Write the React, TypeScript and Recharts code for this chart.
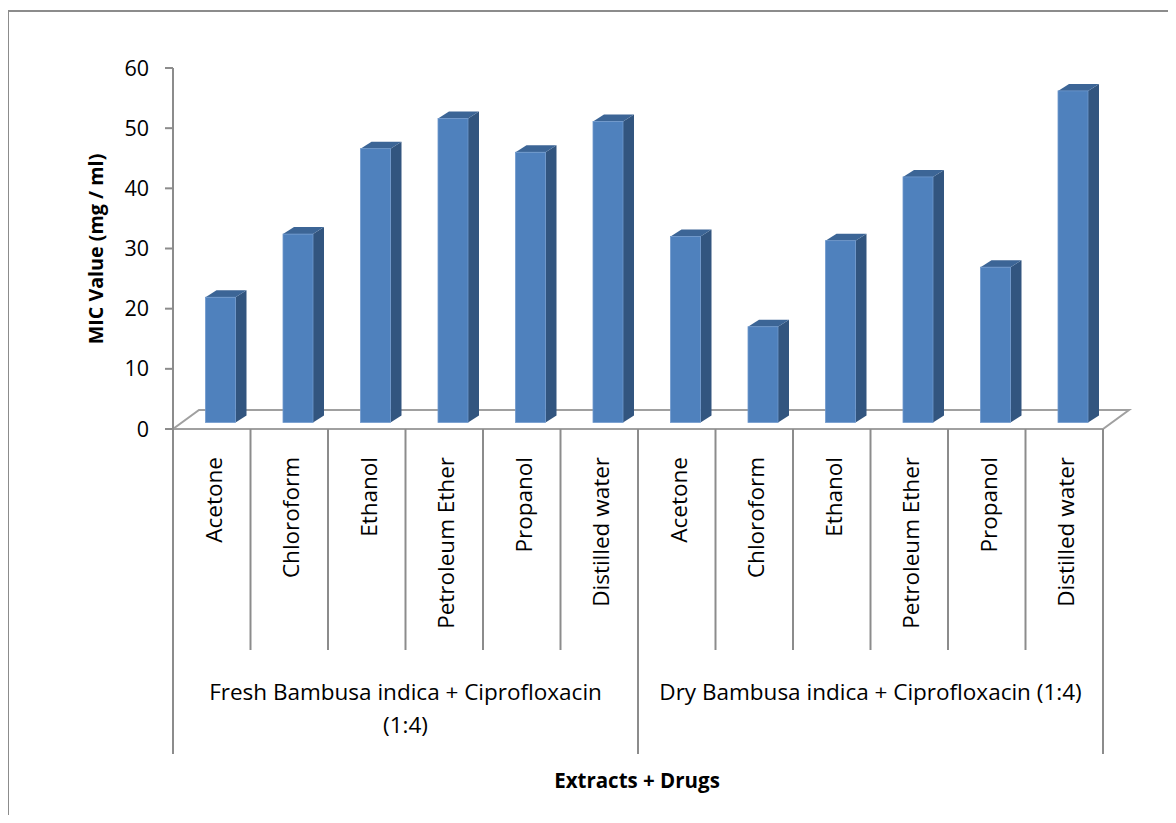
import React from 'react';
import { BarChart, Bar, XAxis, YAxis, ReferenceLine } from 'recharts';

const solvents = ['Acetone', 'Chloroform', 'Ethanol', 'Petroleum Ether', 'Propanol', 'Distilled water'];
const groupLines = [
  ['Fresh Bambusa indica + Ciprofloxacin', '(1:4)'],
  ['Dry Bambusa indica + Ciprofloxacin (1:4)'],
];
const freshMic = [20.8, 31.3, 45.5, 50.5, 44.9, 50.0];
const dryMic = [30.9, 15.9, 30.2, 40.8, 25.8, 55.1];
const yTicks = [0, 10, 20, 30, 40, 50, 60];

const data = [
  ...freshMic.map((mic, i) => ({ key: `fresh-${i}`, solvent: solvents[i], mic })),
  ...dryMic.map((mic, i) => ({ key: `dry-${i}`, solvent: solvents[i], mic })),
];

const FONT = '"Open Sans", "Noto Sans", sans-serif';
const AXIS_GREY = '#8c8c8c';
const LABEL_SIZE = 22.5;

// chart geometry
const W = 1176;
const H = 823;
const PLOT_LEFT = 173;
const PLOT_RIGHT = 1103;
const PLOT_TOP = 68;
const PLOT_BOTTOM = 429;
const BAND = (PLOT_RIGHT - PLOT_LEFT) / data.length;

// oblique 3d offsets
const FLOOR_DX = 26;
const FLOOR_DY = 19;
const COL_SHIFT_X = 8.5;
const COL_SHIFT_Y = 6.6;
const COL_DX = 11;
const COL_DY = 7;

function Column3D(props: any) {
  const { x, y, width, height } = props;
  if (height == null || width == null) return null;
  const fx = x + COL_SHIFT_X;
  const fy = y - COL_SHIFT_Y;
  const r = fx + width;
  const b = fy + height;
  return (
    <g>
      <polygon
        points={`${r},${fy} ${r + COL_DX},${fy - COL_DY} ${r + COL_DX},${b - COL_DY} ${r},${b}`}
        fill="#32557f"
      />
      <polygon
        points={`${fx},${fy} ${fx + COL_DX},${fy - COL_DY} ${r + COL_DX},${fy - COL_DY} ${r},${fy}`}
        fill="#3c6596"
      />
      <rect x={fx} y={fy} width={width} height={height} fill="#4f81bd" stroke="#6f98cc" strokeWidth={0.8} />
    </g>
  );
}

function Floor(props: any) {
  const { x1, y1, x2 } = props;
  const pts = `${x1},${y1} ${x2},${y1} ${x2 + FLOOR_DX},${y1 - FLOOR_DY} ${x1 + FLOOR_DX},${y1 - FLOOR_DY}`;
  return <polygon points={pts} fill="#ffffff" stroke="#a0a0a0" strokeWidth={2} />;
}

function CategoryTick(props: any) {
  const { x, y, index } = props;
  const row = data[index];
  if (!row) return null;
  const left = x - BAND / 2;
  const groupStart = index % solvents.length === 0;
  const last = index === data.length - 1;
  const lines = groupLines[Math.floor(index / solvents.length)];
  const groupCenter = left + (BAND * solvents.length) / 2;
  return (
    <g>
      <line x1={left} y1={y} x2={left} y2={groupStart ? 754 : 650} stroke={AXIS_GREY} strokeWidth={2} />
      {last && <line x1={left + BAND} y1={y} x2={left + BAND} y2={754} stroke={AXIS_GREY} strokeWidth={2} />}
      <text
        transform={`translate(${x + 2},457) rotate(-90)`}
        textAnchor="end"
        dy="0.35em"
        fontSize={LABEL_SIZE}
        fontFamily={FONT}
        fill="#000"
      >
        {row.solvent}
      </text>
      {groupStart &&
        lines.map((t, i) => (
          <text
            key={t}
            x={groupCenter}
            y={692 + i * 33}
            dy="0.35em"
            textAnchor="middle"
            fontSize={LABEL_SIZE}
            fontFamily={FONT}
            fill="#000"
          >
            {t}
          </text>
        ))}
    </g>
  );
}

export default function App() {
  return (
    <div style={{ position: 'relative', margin: -8, width: W, height: H, background: '#fff', overflow: 'hidden' }}>
      <div
        style={{
          position: 'absolute',
          left: 7,
          top: 10,
          width: W,
          height: H,
          borderLeft: `2px solid ${AXIS_GREY}`,
          borderTop: `2px solid ${AXIS_GREY}`,
        }}
      />
      <div style={{ position: 'absolute', left: 0, top: 0 }}>
        <BarChart
          width={W}
          height={H}
          data={data}
          margin={{ top: PLOT_TOP, right: W - PLOT_RIGHT, bottom: 64, left: PLOT_LEFT - 80 }}
          barSize={30}
        >
          <XAxis
            dataKey="key"
            interval={0}
            height={H - PLOT_BOTTOM - 64}
            axisLine={false}
            tickLine={false}
            tickSize={0}
            tickMargin={0}
            tick={<CategoryTick />}
            label={{
              content: () => (
                <text x={637} y={781} dy="0.35em" textAnchor="middle" fontSize={20.5} fontWeight="bold" fontFamily={FONT} fill="#000">
                  Extracts + Drugs
                </text>
              ),
            }}
          />
          <YAxis
            width={80}
            domain={[0, 60]}
            ticks={yTicks}
            interval={0}
            axisLine={{ stroke: AXIS_GREY, strokeWidth: 2 }}
            tickLine={{ stroke: AXIS_GREY, strokeWidth: 2 }}
            tickSize={8}
            tickMargin={16}
            tick={{ fontSize: 21.5, fontFamily: FONT, fill: '#000' }}
            label={{
              content: () => (
                <text
                  transform="translate(96,249) rotate(-90)"
                  dy="0.35em"
                  textAnchor="middle"
                  fontSize={19.7}
                  fontWeight="bold"
                  fontFamily={FONT}
                  fill="#000"
                >
                  MIC Value (mg / ml)
                </text>
              ),
            }}
          />
          <ReferenceLine y={0} shape={<Floor />} zIndex={-1} />
          <Bar dataKey="mic" shape={<Column3D />} isAnimationActive={false} />
        </BarChart>
      </div>
    </div>
  );
}
